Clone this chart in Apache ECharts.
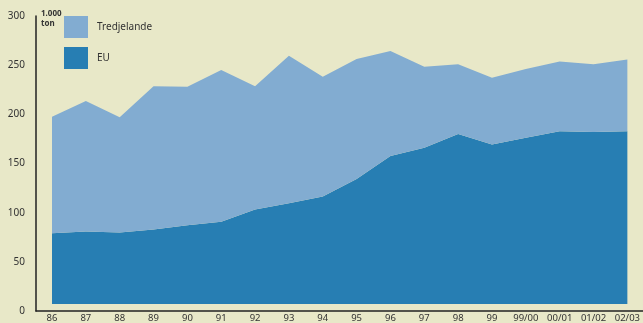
<!DOCTYPE html>
<html>
<head>
<meta charset="utf-8">
<script src="https://cdn.jsdelivr.net/npm/echarts@6/dist/echarts.min.js"></script>
<style>
html,body{margin:0;padding:0;background:#e8e8c8;}
#c{width:643px;height:323px;}
</style>
</head>
<body>
<div id="c"></div>
<script>
const categories = ['86','87','88','89','90','91','92','93','94','95','96','97','98','99','99/00','00/01','01/02','02/03'];
const euValues = [74, 76, 75, 78, 82.5, 86, 99, 105.5, 112.5, 131, 155, 163.5, 178, 167, 174, 181, 180, 181];
const tredjelandeValues = [122, 136.5, 120.5, 150, 145, 159, 129, 154.5, 125.5, 125.5, 110, 85, 73, 70, 72, 73, 71, 75];
const yTicks = { min: 0, max: 300, interval: 50 };
const unitLabel = '1.000\nton';

const font = '"Noto Sans", "Open Sans", sans-serif';
const chart = echarts.init(document.getElementById('c'), null, { renderer: 'canvas' });
chart.setOption({
  backgroundColor: '#e8e8c8',
  animation: false,
  title: {
    text: unitLabel, left: 41, top: 9, padding: 0,
    textStyle: { fontFamily: font, fontSize: 8, fontWeight: 'bold', color: '#333', lineHeight: 10 }
  },
  legend: {
    data: ['Tredjelande', 'EU'],
    orient: 'vertical', left: 64, top: 16, padding: 0,
    itemWidth: 24, itemHeight: 22, itemGap: 9,
    icon: 'rect',
    textStyle: { fontFamily: font, fontSize: 10, color: '#333', padding: [0, 0, 0, 4] }
  },
  grid: [
    { left: 52, right: 13, top: 17.5, bottom: 12 },
    { left: 36, right: 0, top: 16, bottom: 12 }
  ],
  xAxis: [
    {
      type: 'category', gridIndex: 0, data: categories, boundaryGap: false,
      axisLine: { show: false }, axisTick: { show: false },
      axisLabel: { interval: 0, margin: 9, fontFamily: font, fontSize: 9.5, color: '#333', hideOverlap: false }
    },
    {
      type: 'value', gridIndex: 1, min: 0, max: 1, z: 0,
      axisLine: { show: true, lineStyle: { color: '#222', width: 1.5 } },
      axisTick: { show: false }, axisLabel: { show: false }, splitLine: { show: false }
    }
  ],
  yAxis: [
    {
      type: 'value', gridIndex: 0, min: yTicks.min, max: yTicks.max, interval: yTicks.interval,
      show: false, splitLine: { show: false }
    },
    {
      type: 'value', gridIndex: 1, min: yTicks.min, max: yTicks.max, interval: yTicks.interval, z: 0,
      axisLine: { show: true, lineStyle: { color: '#222', width: 1.5 } },
      axisTick: { show: false }, splitLine: { show: false },
      axisLabel: { margin: 11, fontFamily: font, fontSize: 10, color: '#333', padding: [3, 0, 0, 0] }
    }
  ],
  series: [
    {
      name: 'EU', type: 'line', stack: 'total', data: euValues,
      xAxisIndex: 0, yAxisIndex: 0, symbol: 'none',
      lineStyle: { width: 0 }, itemStyle: { color: '#277eb3' },
      areaStyle: { color: '#277eb3', opacity: 1 }
    },
    {
      name: 'Tredjelande', type: 'line', stack: 'total', data: tredjelandeValues,
      xAxisIndex: 0, yAxisIndex: 0, symbol: 'none',
      lineStyle: { width: 0 }, itemStyle: { color: '#82acd1' },
      areaStyle: { color: '#82acd1', opacity: 1 }
    }
  ]
});
</script>
</body>
</html>
